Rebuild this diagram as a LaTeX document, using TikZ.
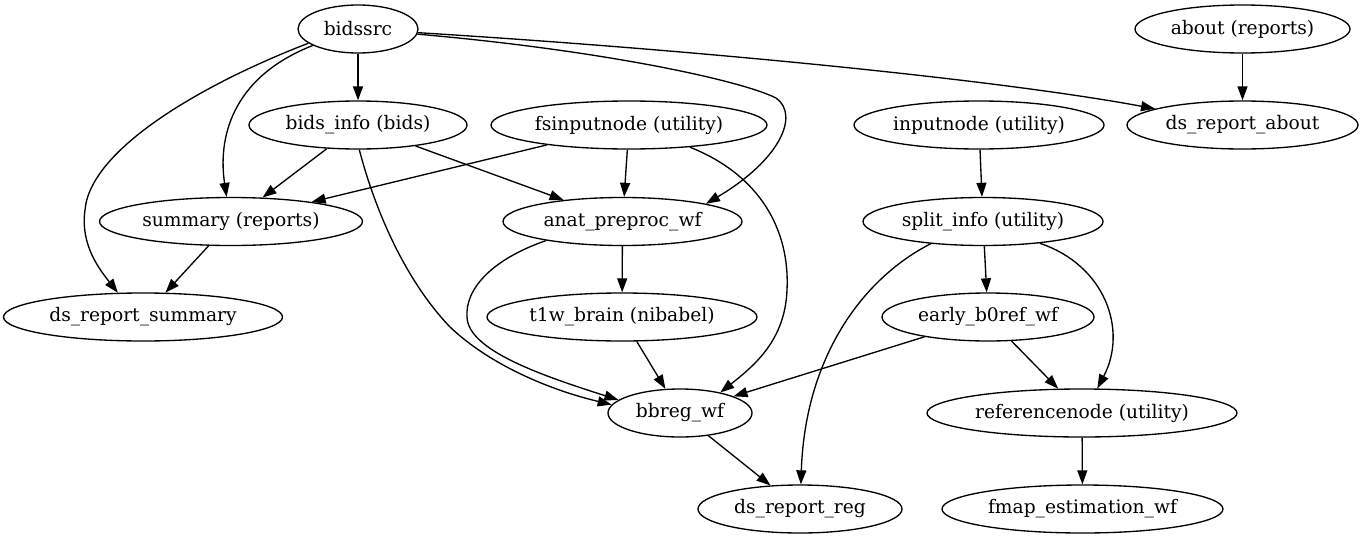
\documentclass[tikz,border=0pt]{standalone}
\usepackage{fontspec}
\setmainfont{DejaVu Serif}
\usetikzlibrary{arrows.meta,shapes.geometric}
\begin{document}
\begin{tikzpicture}[x=0.75pt,y=-0.75pt,
  gv/.style={draw,ellipse,line width=1pt,inner sep=0pt,minimum height=36pt,font=\fontsize{14pt}{16pt}\selectfont},
  ed/.style={line width=1pt,-{Triangle[length=10.5pt,width=7.5pt]}}]
\useasboundingbox (0,0) rectangle (1369,539);
% rank 1
\node[gv,minimum width=90pt] (bidssrc) at (358,29) {bidssrc};
\node[gv,minimum width=161.25pt] (about) at (1242.5,29) {about (reports)};
% rank 2
\node[gv,minimum width=163.5pt] (bidsinfo) at (358,125) {bids\_info (bids)};
\node[gv,minimum width=207pt] (fsinput) at (629,125) {fsinputnode (utility)};
\node[gv,minimum width=187.5pt] (inputnode) at (979,125) {inputnode (utility)};
\node[gv,minimum width=173.25pt] (dsabout) at (1242.5,125) {ds\_report\_about};
% rank 3
\node[gv,minimum width=197.25pt] (summary) at (231,221.5) {summary (reports)};
\node[gv,minimum width=179.25pt] (anat) at (622.5,221.5) {anat\_preproc\_wf};
\node[gv,minimum width=180pt] (split) at (983,221.5) {split\_info (utility)};
% rank 4
\node[gv,minimum width=209.25pt] (dssummary) at (143,317) {ds\_report\_summary};
\node[gv,minimum width=202.5pt] (tbrain) at (622,317) {t1w\_brain (nibabel)};
\node[gv,minimum width=159pt] (early) at (988,317) {early\_b0ref\_wf};
% rank 5
\node[gv,minimum width=108pt] (bbreg) at (680,413) {bbreg\_wf};
\node[gv,minimum width=232.5pt] (ref) at (1082,413) {referencenode (utility)};
% rank 6
\node[gv,minimum width=153pt] (dsreg) at (800,509) {ds\_report\_reg};
\node[gv,minimum width=210.75pt] (fmap) at (1082.5,509) {fmap\_estimation\_wf};

% edges
\draw[ed] (bidssrc) -- (bidsinfo);
\draw[ed] (bidssrc.200) .. controls (230,78) and (218,140) .. (summary.100);
\draw[ed] (bidssrc.196) .. controls (200,85) and (90,150) .. (85,210) .. controls (80,245) and (100,270) .. (dssummary.136);
\draw[ed] (bidssrc) .. controls (700,50) and (1000,80) .. (dsabout);
\draw[ed] (bidssrc) .. controls (600,50) and (740,80) .. (776,98) .. controls (800,115) and (780,160) .. (anat.12);
\draw[ed] (about) -- (dsabout);
\draw[ed] (bidsinfo) -- (summary);
\draw[ed] (bidsinfo) -- (anat);
\draw[ed] (bidsinfo.-87) .. controls (375,210) and (405,280) .. (450,327) .. controls (490,365) and (550,390) .. (bbreg.173);
\draw[ed] (fsinput) -- (summary);
\draw[ed] (fsinput) -- (anat);
\draw[ed] (fsinput.-20) .. controls (760,175) and (790,230) .. (787,290) .. controls (785,340) and (755,365) .. (bbreg.27);
\draw[ed] (anat) -- (tbrain);
\draw[ed] (anat.194) .. controls (490,260) and (465,290) .. (467,317) .. controls (468,350) and (540,375) .. (bbreg.168);
\draw[ed] (summary) -- (dssummary);
\draw[ed] (tbrain) -- (bbreg);
\draw[ed] (inputnode) -- (split);
\draw[ed] (split) -- (early);
\draw[ed] (split.-21) .. controls (1105,265) and (1128,330) .. (ref.58);
\draw[ed] (split.203) .. controls (860,280) and (805,360) .. (dsreg.88);
\draw[ed] (early) -- (bbreg);
\draw[ed] (early) -- (ref);
\draw[ed] (bbreg) -- (dsreg);
\draw[ed] (ref) -- (fmap);
\end{tikzpicture}
\end{document}
